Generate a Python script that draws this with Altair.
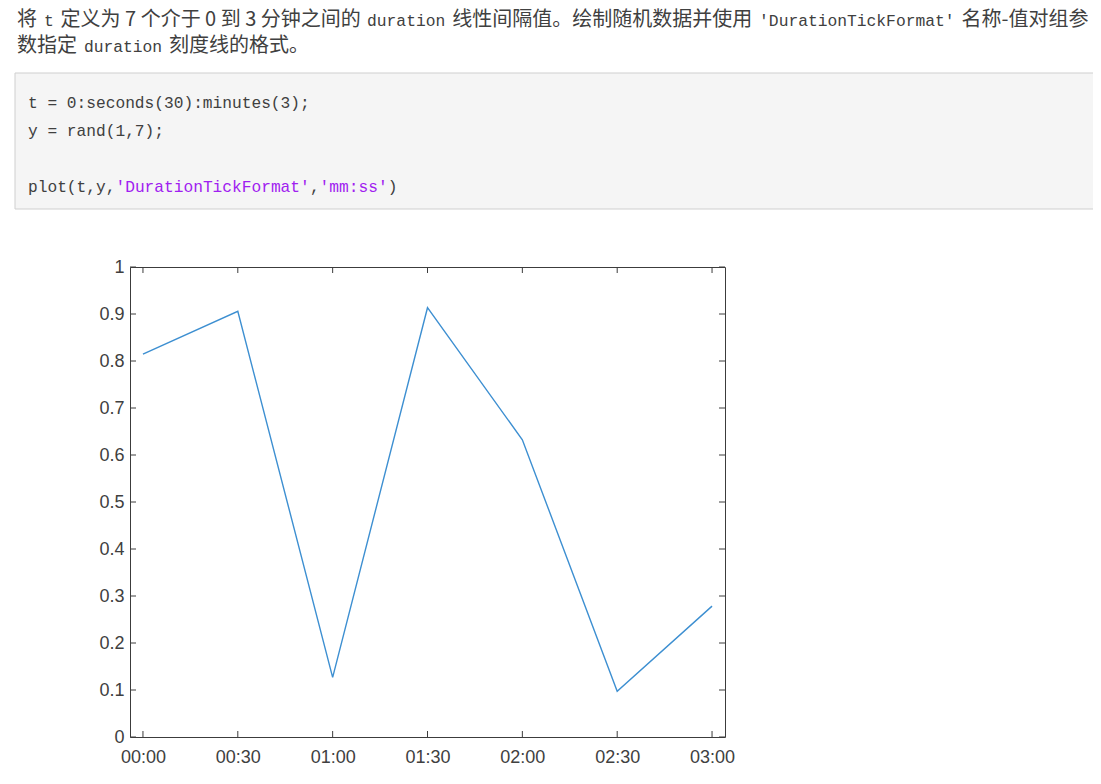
import altair as alt
import pandas as pd

# ---- data ----
t_seconds = [0, 30, 60, 90, 120, 150, 180]
y_values = [0.8147, 0.9058, 0.1270, 0.9134, 0.6324, 0.0975, 0.2785]
x_tick_seconds = [0, 30, 60, 90, 120, 150, 180]
y_tick_values = [0, 0.1, 0.2, 0.3, 0.4, 0.5, 0.6, 0.7, 0.8, 0.9, 1.0]

header_line1 = [
    ("将 ", "cjk"),
    ("t", "mono"),
    (" 定义为 7 个介于 0 到 3 分钟之间的 ", "cjk"),
    ("duration", "mono"),
    (" 线性间隔值。绘制随机数据并使用 ", "cjk"),
    ("'DurationTickFormat'", "mono"),
    (" 名称-值对组参", "cjk"),
]
header_line2 = [
    ("数指定 ", "cjk"),
    ("duration", "mono"),
    (" 刻度线的格式。", "cjk"),
]
code_lines = [
    [("t = 0:seconds(30):minutes(3);", "code")],
    [("y = rand(1,7);", "code")],
    [("plot(t,y,", "code"), ("'DurationTickFormat'", "str"), (",", "code"),
     ("'mm:ss'", "str"), (")", "code")],
]

# ---- layout / style ----
W, H = 595, 470
CJK_FONT, CJK_FS = "Noto Sans CJK SC", 20
MONO_FONT, MONO_FS = "Liberation Mono", 16.3
CODE_FS = 16.2
SPACE_EM = 0.22
MONO_PAD = 2.5
TEXT_COLOR = "#404040"
STR_COLOR = "#A020F0"
AX_COLOR = "#3c3c3c"
LBL_COLOR = "#404040"
LINE_COLOR = "#3d8fd1"


def seg_width(s, kind):
    if kind == "mono":
        return len(s) * 0.6 * MONO_FS
    if kind in ("code", "str"):
        return len(s) * 0.6 * CODE_FS
    w = 0.0
    for ch in s:
        if ord(ch) >= 0x2E80:
            w += CJK_FS
        elif ch.isdigit():
            w += 0.553 * CJK_FS
        elif ch == " ":
            w += SPACE_EM * CJK_FS
        elif ch == "-":
            w += 0.33 * CJK_FS
        else:
            w += 0.5 * CJK_FS
    return w


one_row = alt.Data(values=[{}])
layers = []


def text_layer(txt, x, y, font, size, color):
    return alt.Chart(one_row).mark_text(
        text=txt, font=font, fontSize=size, color=color,
        align="left", baseline="alphabetic",
    ).encode(x=alt.value(x), y=alt.value(y))


def line_layers(segs, x0, y):
    out = []
    x = x0
    for s, kind in segs:
        lead = len(s) - len(s.lstrip(" "))
        core = s.strip(" ")
        if kind == "mono":
            x += MONO_PAD
        xs = x + seg_width(" " * lead, kind)
        if kind == "cjk":
            out.append(text_layer(core, xs, y, CJK_FONT, CJK_FS, TEXT_COLOR))
        elif kind == "mono":
            out.append(text_layer(core, xs, y, MONO_FONT, MONO_FS, TEXT_COLOR))
        elif kind == "code":
            out.append(text_layer(core, xs, y, MONO_FONT, CODE_FS, TEXT_COLOR))
        else:
            out.append(text_layer(core, xs, y, MONO_FONT, CODE_FS, STR_COLOR))
        x += seg_width(s, kind)
        if kind == "mono":
            x += MONO_PAD
    return out


# code box
layers.append(alt.Chart(one_row).mark_rect(
    fill="#f5f5f5", stroke="#cfcfcf", strokeWidth=1
).encode(x=alt.value(-115), x2=alt.value(1000), y=alt.value(-194), y2=alt.value(-58)))

# header text (positions relative to plot origin)
layers += line_layers(header_line1, -113, -241.5)
layers += line_layers(header_line2, -113, -215)

code_y = [-159.5, -131.5, -75]
for segs, yy in zip(code_lines, code_y):
    layers += line_layers(segs, -102, yy)

# ---- plot ----
xscale = alt.Scale(domain=[-4.1, 184.1], nice=False, zero=False)
yscale = alt.Scale(domain=[0, 1], nice=False, zero=False)

xaxis = alt.Axis(values=x_tick_seconds, ticks=False, domain=False, grid=False,
                 labelExpr="format(floor(datum.value/60), '02d') + ':' + format(datum.value % 60, '02d')",
                 labelFont="Liberation Sans", labelFontSize=18, labelColor=LBL_COLOR,
                 labelPadding=11, labelFlush=False, labelOverlap=False)
yaxis = alt.Axis(values=y_tick_values, ticks=False, domain=False, grid=False,
                 format="~g", labelFont="Liberation Sans", labelFontSize=18,
                 labelColor=LBL_COLOR, labelPadding=6, labelFlush=False,
                 labelOverlap=False)

df = pd.DataFrame({"t": t_seconds, "y": y_values})
line = alt.Chart(df).mark_line(color=LINE_COLOR, strokeWidth=1.4).encode(
    x=alt.X("t:Q", scale=xscale, title=None, axis=xaxis),
    y=alt.Y("y:Q", scale=yscale, title=None, axis=yaxis),
)

xt = pd.DataFrame({"t": x_tick_seconds})
yt = pd.DataFrame({"y": y_tick_values})
TK = 6
tick_bottom = alt.Chart(xt).mark_rule(color=AX_COLOR, strokeWidth=1).encode(
    x=alt.X("t:Q", scale=xscale, title=None, axis=xaxis), y=alt.value(H - TK), y2=alt.value(H))
tick_top = alt.Chart(xt).mark_rule(color=AX_COLOR, strokeWidth=1).encode(
    x=alt.X("t:Q", scale=xscale, title=None, axis=xaxis), y=alt.value(0), y2=alt.value(TK))
tick_left = alt.Chart(yt).mark_rule(color=AX_COLOR, strokeWidth=1).encode(
    y=alt.Y("y:Q", scale=yscale, title=None, axis=yaxis), x=alt.value(0), x2=alt.value(TK))
tick_right = alt.Chart(yt).mark_rule(color=AX_COLOR, strokeWidth=1).encode(
    y=alt.Y("y:Q", scale=yscale, title=None, axis=yaxis), x=alt.value(W - TK), x2=alt.value(W))

chart = alt.layer(
    line, tick_bottom, tick_top, tick_left, tick_right, *layers
).properties(
    width=W, height=H,
    autosize=alt.AutoSizeParams(type="none"),
    padding={"left": 122, "top": 259, "right": 368, "bottom": 30},
    background="white",
).configure_view(stroke=AX_COLOR, strokeWidth=1)

chart.save("out.html", embed_options={"renderer": "svg", "actions": False})
